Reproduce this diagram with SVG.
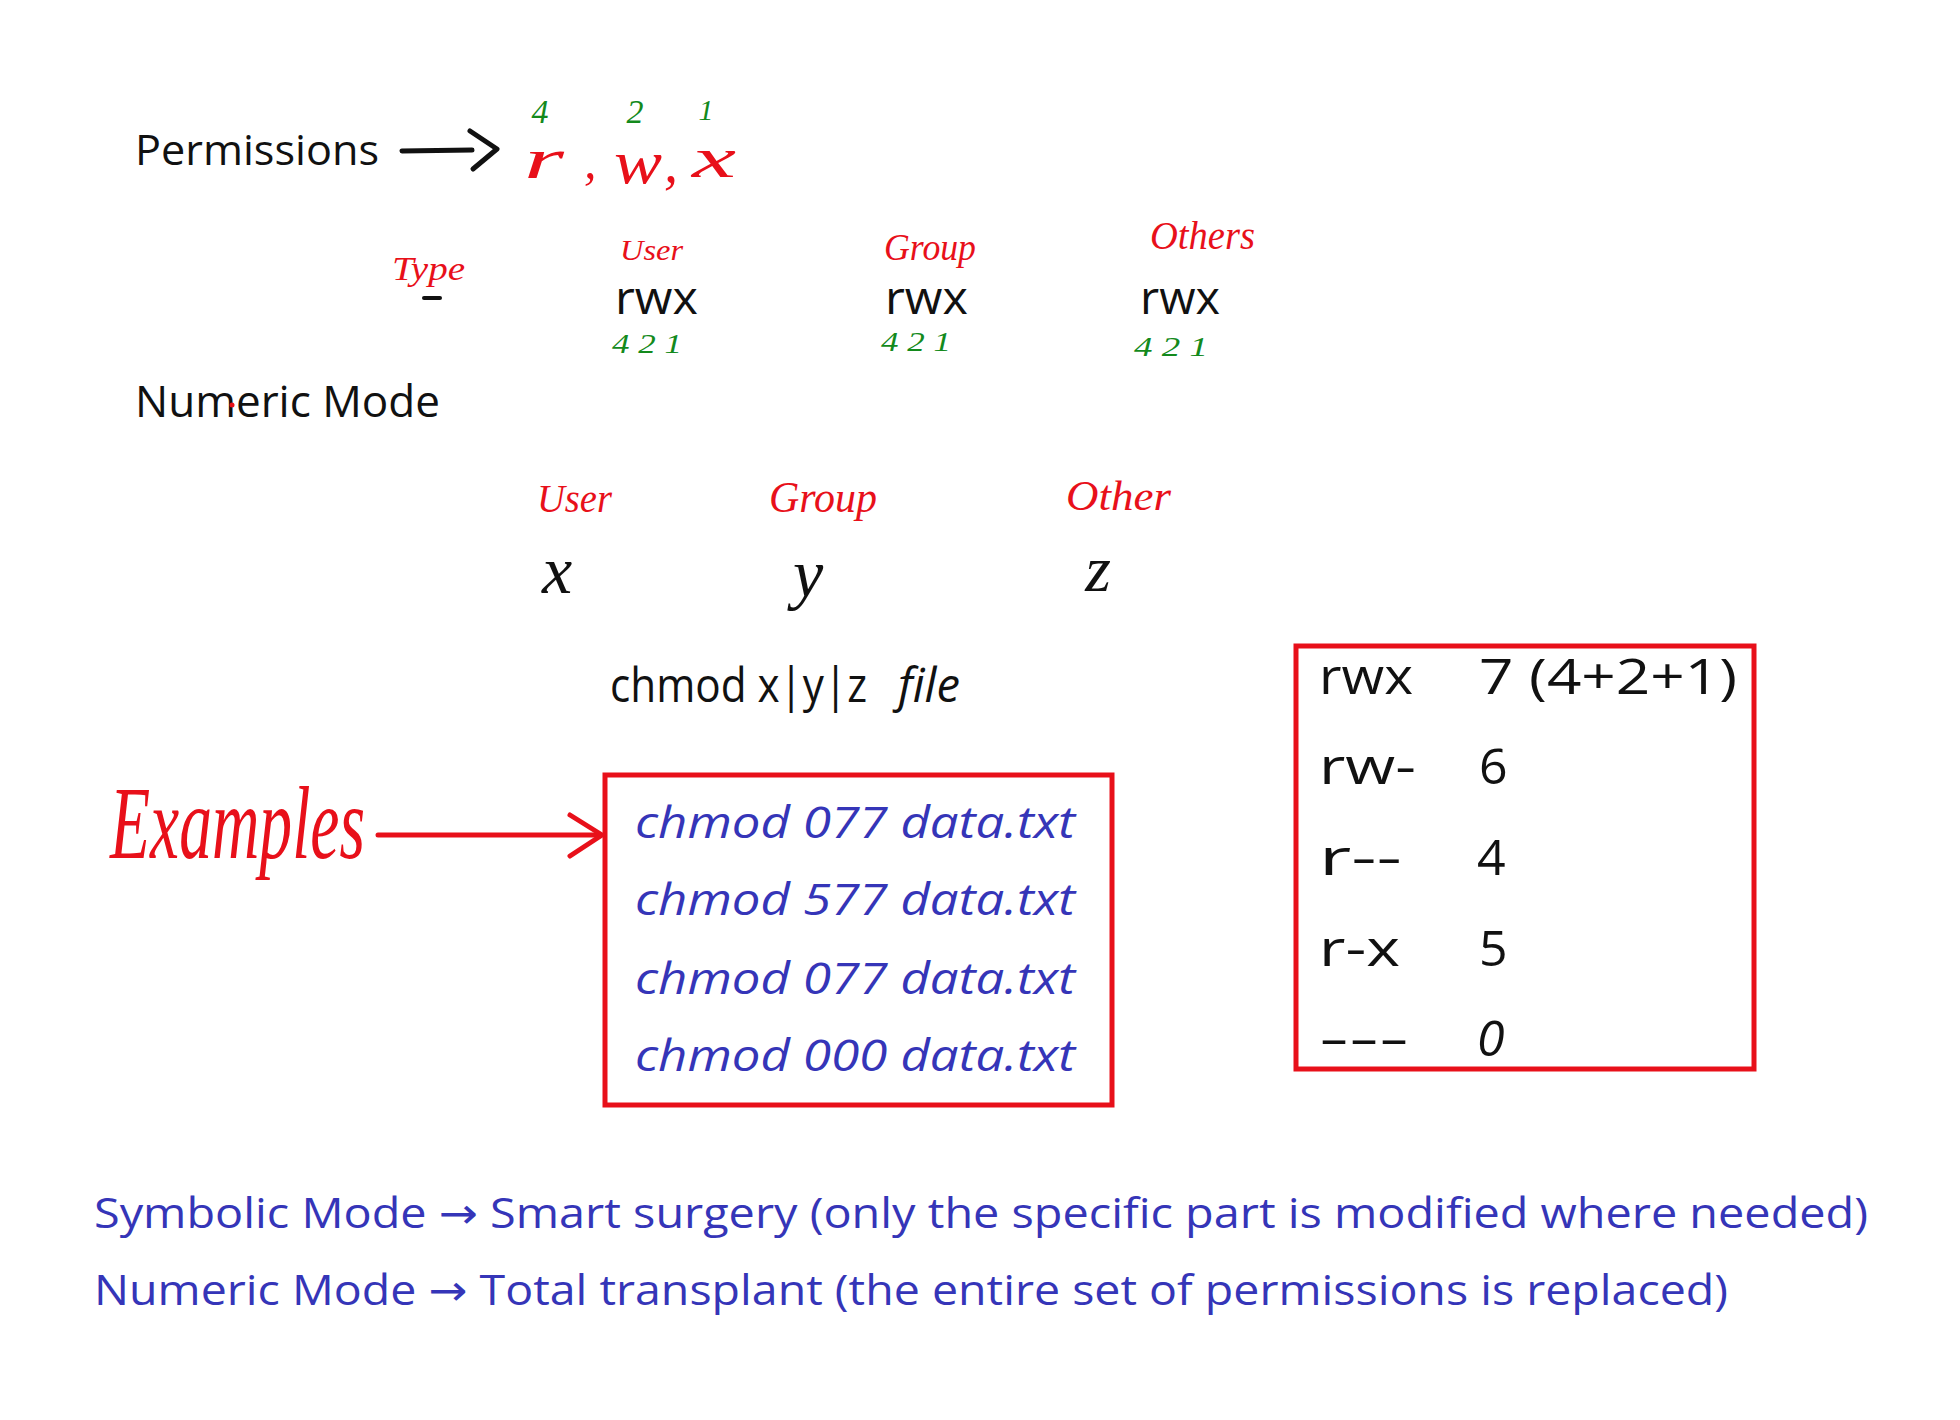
<svg xmlns="http://www.w3.org/2000/svg" width="1960" height="1420" viewBox="0 0 1960 1420">
<defs>
<style>
.blk{font-family:"Open Sans","DejaVu Sans",sans-serif;fill:#111;}
.red{font-family:"Liberation Serif","DejaVu Serif",serif;font-style:italic;fill:#e8101a;}
.grn{font-family:"Liberation Serif","DejaVu Serif",serif;font-style:italic;fill:#138a1c;}
.blu{font-family:"Open Sans","DejaVu Sans",sans-serif;fill:#3535b8;}
.box{fill:none;stroke:#e8101a;stroke-width:5;}
.arr{fill:none;stroke-linecap:round;stroke-linejoin:round;}
</style>
</defs>
<rect width="1960" height="1420" fill="#fff"/>

<g id="permissions">
<text class="blk" x="135" y="165" font-size="42" textLength="244" lengthAdjust="spacingAndGlyphs">Permissions</text>
</g>
<g id="rwx-letters">
<text class="red" x="524" y="178" font-size="58" textLength="40" lengthAdjust="spacingAndGlyphs">r</text>
<text class="red" x="584" y="178" font-size="50">,</text>
<text class="red" x="614" y="183" font-size="62" textLength="48" lengthAdjust="spacingAndGlyphs">w</text>
<text class="red" x="664" y="182" font-size="56">,</text>
<text class="red" x="692" y="177" font-size="58" textLength="44" lengthAdjust="spacingAndGlyphs">x</text>
<text class="grn" x="540" y="123" font-size="34" text-anchor="middle">4</text>
<text class="grn" x="635" y="123" font-size="34" text-anchor="middle">2</text>
<text class="grn" x="706" y="120" font-size="30" text-anchor="middle">1</text>
</g>

<g id="type">
<text class="red" x="392" y="280" font-size="34" textLength="73" lengthAdjust="spacingAndGlyphs">Type</text>
<line x1="424" y1="298" x2="440" y2="298" stroke="#111" stroke-width="4" stroke-linecap="round"/>
</g>
<g id="user">
<text class="red" x="620" y="260" font-size="30" textLength="63" lengthAdjust="spacingAndGlyphs">User</text>
<text class="blk" x="615" y="314" font-size="45" textLength="83" lengthAdjust="spacingAndGlyphs">rwx</text>
<text class="grn" x="612" y="353" font-size="28" textLength="70" lengthAdjust="spacingAndGlyphs">4 2 1</text>
</g>
<g id="group">
<text class="red" x="884" y="260" font-size="38" textLength="92" lengthAdjust="spacingAndGlyphs">Group</text>
<text class="blk" x="885" y="314" font-size="46" textLength="83" lengthAdjust="spacingAndGlyphs">rwx</text>
<text class="grn" x="881" y="351" font-size="28" textLength="70" lengthAdjust="spacingAndGlyphs">4 2 1</text>
</g>
<g id="others">
<text class="red" x="1150" y="249" font-size="40" textLength="105" lengthAdjust="spacingAndGlyphs">Others</text>
<text class="blk" x="1140" y="314" font-size="46" textLength="80" lengthAdjust="spacingAndGlyphs">rwx</text>
<text class="grn" x="1134" y="356" font-size="28" textLength="74" lengthAdjust="spacingAndGlyphs">4 2 1</text>
</g>

<g id="numeric-mode">
<text class="blk" x="135" y="417" font-size="44" textLength="305" lengthAdjust="spacingAndGlyphs">Numeric Mode</text>
<circle cx="232" cy="405" r="2.5" fill="#e8101a"/>
</g>

<g id="num-user">
<text class="red" x="537" y="512" font-size="40" textLength="75" lengthAdjust="spacingAndGlyphs">User</text>
<text class="red" x="557" y="593" font-size="68" text-anchor="middle" style="fill:#111">x</text>
</g>
<g id="num-group">
<text class="red" x="769" y="512" font-size="44" textLength="108" lengthAdjust="spacingAndGlyphs">Group</text>
<text class="red" x="808" y="597" font-size="68" text-anchor="middle" style="fill:#111">y</text>
</g>
<g id="num-other">
<text class="red" x="1066" y="510" font-size="42" textLength="105" lengthAdjust="spacingAndGlyphs">Other</text>
<text class="red" x="1098" y="591" font-size="66" text-anchor="middle" style="fill:#111">z</text>
</g>

<g id="chmod-syntax">
<text class="blk" x="610" y="702" font-size="48" textLength="257" lengthAdjust="spacingAndGlyphs">chmod x|y|z</text>
<text class="blk" x="898" y="702" font-size="48" font-style="italic" textLength="62" lengthAdjust="spacingAndGlyphs">file</text>
</g>

<g id="examples-label">
<text class="red" x="110" y="858" font-size="104" textLength="255" lengthAdjust="spacingAndGlyphs">Examples</text>
</g>

<g id="examples-box">
<rect class="box" x="605" y="775" width="507" height="330"/>
<text class="blu" x="635" y="838" font-size="44" font-style="italic" textLength="440" lengthAdjust="spacingAndGlyphs">chmod 077 data.txt</text>
<text class="blu" x="635" y="915" font-size="44" font-style="italic" textLength="440" lengthAdjust="spacingAndGlyphs">chmod 577 data.txt</text>
<text class="blu" x="635" y="994" font-size="44" font-style="italic" textLength="440" lengthAdjust="spacingAndGlyphs">chmod 077 data.txt</text>
<text class="blu" x="635" y="1071" font-size="44" font-style="italic" textLength="440" lengthAdjust="spacingAndGlyphs">chmod 000 data.txt</text>
</g>

<g id="value-table">
<rect class="box" x="1296" y="646" width="458" height="423"/>
<text class="blk" x="1319" y="694" font-size="50" textLength="94" lengthAdjust="spacingAndGlyphs">rwx</text>
<text class="blk" x="1479" y="694" font-size="50" textLength="258" lengthAdjust="spacingAndGlyphs">7 (4+2+1)</text>
<text class="blk" x="1319" y="784" font-size="50" textLength="97" lengthAdjust="spacingAndGlyphs">rw-</text>
<text class="blk" x="1479" y="784" font-size="50">6</text>
<text class="blk" x="1319" y="875" font-size="50" textLength="83" lengthAdjust="spacingAndGlyphs">r--</text>
<text class="blk" x="1477" y="875" font-size="50">4</text>
<text class="blk" x="1319" y="966" font-size="50" textLength="81" lengthAdjust="spacingAndGlyphs">r-x</text>
<text class="blk" x="1479" y="966" font-size="50">5</text>
<text class="blk" x="1319" y="1056" font-size="50" textLength="90" lengthAdjust="spacingAndGlyphs">---</text>
<text class="blk" x="1477" y="1056" font-size="50" font-style="italic">0</text>
</g>

<g id="summary">
<text class="blu" x="94" y="1228" font-size="42" textLength="1774" lengthAdjust="spacingAndGlyphs">Symbolic Mode → Smart surgery (only the specific part is modified where needed)</text>
<text class="blu" x="94" y="1305" font-size="42" textLength="1634" lengthAdjust="spacingAndGlyphs">Numeric Mode → Total transplant (the entire set of permissions is replaced)</text>
</g>

<g id="connectors">
<g class="arr" stroke="#111" stroke-width="5">
<path d="M402 151 L472 150"/>
<path d="M470 131 L497 149 L473 169"/>
</g>
<g class="arr" stroke="#e8101a" stroke-width="5">
<path d="M378 835 L600 835"/>
<path d="M570 815 L602 835 L570 856"/>
</g>
</g>
</svg>
